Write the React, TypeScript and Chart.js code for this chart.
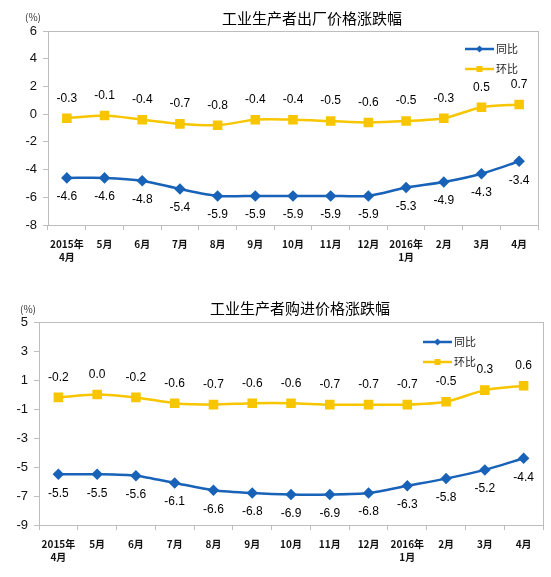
import { useEffect, useRef } from 'react';
import { Chart, registerables, Plugin } from 'chart.js';

Chart.register(...registerables);

// shared categories
const months: (string | string[])[] = [
    ['2015年', '4月'], '5月', '6月', '7月', '8月', '9月', '10月', '11月', '12月',
    ['2016年', '1月'], '2月', '3月', '4月',
];

// 出厂价格
const outYoy = [-4.6, -4.6, -4.8, -5.4, -5.9, -5.9, -5.9, -5.9, -5.9, -5.3, -4.9, -4.3, -3.4];
const outMom = [-0.3, -0.1, -0.4, -0.7, -0.8, -0.4, -0.4, -0.5, -0.6, -0.5, -0.3, 0.5, 0.7];
const outTicks = { min: -8, max: 6, step: 2 };

// 购进价格
const inYoy = [-5.5, -5.5, -5.6, -6.1, -6.6, -6.8, -6.9, -6.9, -6.8, -6.3, -5.8, -5.2, -4.4];
const inMom = [-0.2, 0.0, -0.2, -0.6, -0.7, -0.6, -0.6, -0.7, -0.7, -0.7, -0.5, 0.3, 0.6];
const inTicks = { min: -9, max: 5, step: 2 };

const BLUE = '#1862B8';
const YELLOW = '#F7C600';
const FRAME = '#BDBDBD';
const CJK = '"Noto Sans CJK SC", "Noto Sans", sans-serif';
const LATIN = '"Liberation Sans", Arial, sans-serif';

interface PanelProps {
    title: string;
    yoy: number[];
    mom: number[];
    ticks: { min: number; max: number; step: number };
    width: number;
    height: number;
    area: { left: number; top: number; right: number; bottom: number };
    titleX: number;
    unitX: number;
    unitY: number;
    legendX: number;
    legendY: number;
}

function ChartPanel(props: PanelProps) {
    const canvasRef = useRef<HTMLCanvasElement | null>(null);

    useEffect(() => {
        if (!canvasRef.current) return;
        const { area, width, height } = props;

        // frame, title, unit, value labels and legend
        const decorations: Plugin<'line'> = {
            id: 'decorations',
            beforeDatasetsDraw(chart) {
                const { ctx, chartArea } = chart;
                ctx.save();
                ctx.strokeStyle = FRAME;
                ctx.lineWidth = 1;
                ctx.strokeRect(Math.round(chartArea.left) + 0.5, Math.round(chartArea.top) + 0.5,
                    Math.round(chartArea.right - chartArea.left), Math.round(chartArea.bottom - chartArea.top));
                ctx.restore();
            },
            afterDatasetsDraw(chart) {
                const { ctx } = chart;
                ctx.save();
                ctx.fillStyle = '#000';
                ctx.font = `15px ${CJK}`;
                ctx.textAlign = 'center';
                ctx.textBaseline = 'middle';
                ctx.fillText(props.title, props.titleX, 18);
                ctx.fillStyle = '#333';
                ctx.font = `10px ${CJK}`;
                ctx.fillText('(%)', props.unitX, props.unitY);

                ctx.fillStyle = '#000';
                ctx.font = `12px ${LATIN}`;
                chart.data.datasets.forEach((ds, i) => {
                    const meta = chart.getDatasetMeta(i);
                    const below = i === 0;
                    meta.data.forEach((pt, j) => {
                        const v = ds.data[j] as number;
                        const dy = below ? 19 : -20;
                        ctx.fillText(v.toFixed(1), pt.x, pt.y + dy);
                    });
                });

                // legend
                chart.data.datasets.forEach((ds, i) => {
                    const y = props.legendY + i * 20;
                    const x = props.legendX;
                    const color = ds.borderColor as string;
                    ctx.strokeStyle = color;
                    ctx.lineWidth = 2.5;
                    ctx.beginPath();
                    ctx.moveTo(x, y);
                    ctx.lineTo(x + 29, y);
                    ctx.stroke();
                    ctx.fillStyle = color;
                    if (i === 0) {
                        ctx.beginPath();
                        ctx.moveTo(x + 14.5, y - 3.5);
                        ctx.lineTo(x + 18, y);
                        ctx.lineTo(x + 14.5, y + 3.5);
                        ctx.lineTo(x + 11, y);
                        ctx.closePath();
                        ctx.fill();
                    } else {
                        ctx.fillRect(x + 11.5, y - 3, 6, 6);
                    }
                    ctx.fillStyle = '#222';
                    ctx.font = `11px ${CJK}`;
                    ctx.textAlign = 'left';
                    ctx.fillText(ds.label as string, x + 31, y);
                });
                ctx.restore();
            },
        };

        const chart = new Chart(canvasRef.current, {
            type: 'line',
            data: {
                labels: months,
                datasets: [
                    {
                        label: '同比',
                        data: props.yoy,
                        borderColor: BLUE,
                        backgroundColor: BLUE,
                        borderWidth: 2.5,
                        pointStyle: 'rectRot',
                        pointRadius: 4,
                        tension: 0.25,
                    },
                    {
                        label: '环比',
                        data: props.mom,
                        borderColor: YELLOW,
                        backgroundColor: YELLOW,
                        borderWidth: 2.5,
                        pointStyle: 'rect',
                        pointRadius: 5,
                        tension: 0.25,
                    },
                ],
            },
            options: {
                responsive: false,
                animation: false,
                layout: { padding: { top: area.top, right: width - area.right, left: 0, bottom: 0 } },
                plugins: {
                    legend: { display: false },
                    title: { display: false },
                    tooltip: { enabled: false },
                },
                scales: {
                    x: {
                        offset: true,
                        grid: { offset: true, drawOnChartArea: false, tickLength: 5, color: FRAME },
                        border: { color: FRAME },
                        ticks: {
                            maxRotation: 0,
                            autoSkip: false,
                            padding: 7,
                            color: '#111',
                            font: { family: CJK, size: 10, weight: 'bold', lineHeight: 1.35 },
                        },
                        afterFit: (s) => { s.height = height - area.bottom; },
                    },
                    y: {
                        min: props.ticks.min,
                        max: props.ticks.max,
                        ticks: {
                            stepSize: props.ticks.step,
                            color: '#111',
                            padding: 6,
                            font: { family: LATIN, size: 13 },
                        },
                        grid: { drawOnChartArea: false, tickLength: 5, color: FRAME },
                        border: { color: FRAME },
                        afterFit: (s) => { s.width = area.left; },
                    },
                },
            },
            plugins: [decorations],
        });
        return () => chart.destroy();
    }, []);

    return (
        <canvas ref={canvasRef} width={props.width} height={props.height}
            style={{ display: 'block', width: props.width, height: props.height }} />
    );
}

export default function App() {
    return (
        <div style={{ position: 'absolute', left: 0, top: 0, width: 551, height: 577, background: '#fff' }}>
            <ChartPanel
                title="工业生产者出厂价格涨跌幅"
                yoy={outYoy}
                mom={outMom}
                ticks={outTicks}
                width={551}
                height={290}
                area={{ left: 48, top: 31, right: 538, bottom: 225 }}
                titleX={312}
                unitX={33}
                unitY={17}
                legendX={465}
                legendY={49}
            />
            <ChartPanel
                title="工业生产者购进价格涨跌幅"
                yoy={inYoy}
                mom={inMom}
                ticks={inTicks}
                width={551}
                height={287}
                area={{ left: 39, top: 32, right: 543, bottom: 235 }}
                titleX={300}
                unitX={28}
                unitY={19}
                legendX={423}
                legendY={52}
            />
        </div>
    );
}
